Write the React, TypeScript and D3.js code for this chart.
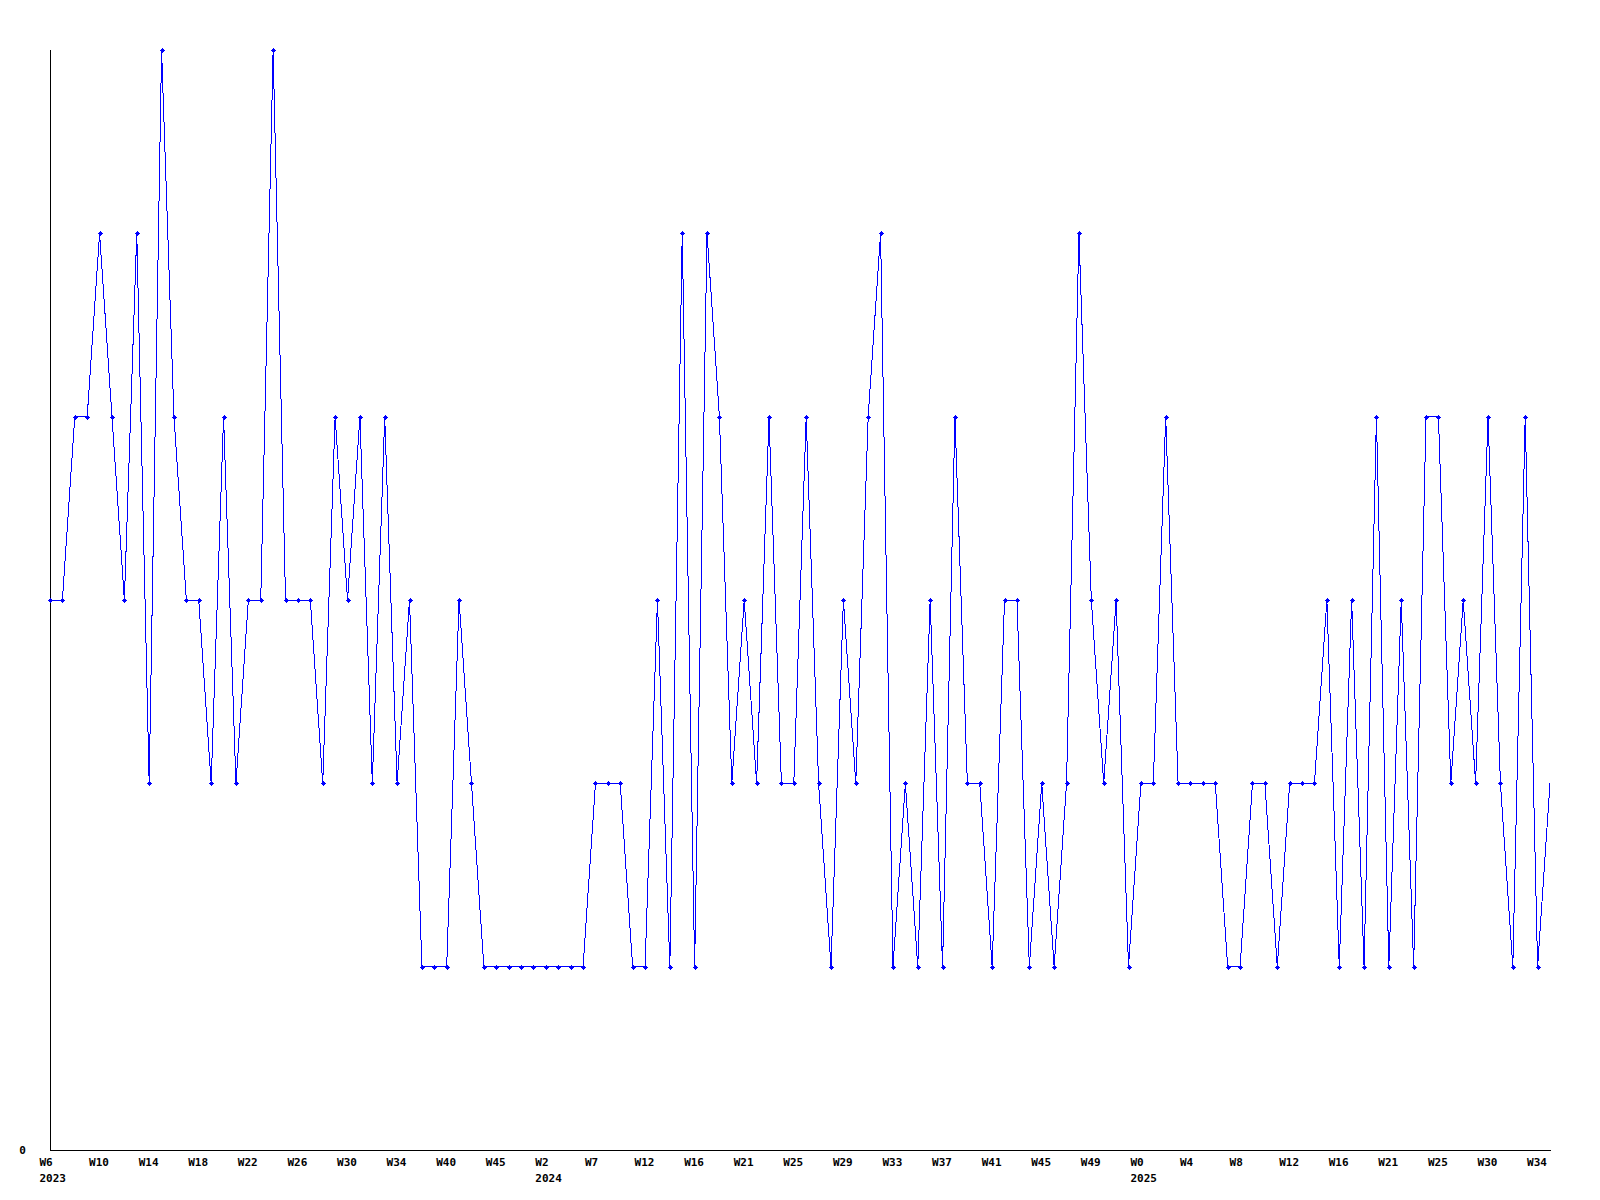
import React from "react";
import * as d3 from "d3";

// Series values (one point per sample, levels)
const values: number[] = [
  3, 3, 4, 4, 5, 4, 3, 5, 2, 6,
  4, 3, 3, 2, 4, 2, 3, 3, 6, 3,
  3, 3, 2, 4, 3, 4, 2, 4, 2, 3,
  1, 1, 1, 3, 2, 1, 1, 1, 1, 1,
  1, 1, 1, 1, 2, 2, 2, 1, 1, 3,
  1, 5, 1, 5, 4, 2, 3, 2, 4, 2,
  2, 4, 2, 1, 3, 2, 4, 5, 1, 2,
  1, 3, 1, 4, 2, 2, 1, 3, 3, 1,
  2, 1, 2, 5, 3, 2, 3, 1, 2, 2,
  4, 2, 2, 2, 2, 1, 1, 2, 2, 1,
  2, 2, 2, 3, 1, 3, 1, 4, 1, 3,
  1, 4, 4, 2, 3, 2, 4, 2, 1, 4,
  1, 2,
];

// Tick labels, one every 4 points
const weekLabels: string[] = [
  "W6", "W10", "W14", "W18", "W22", "W26", "W30", "W34", "W40", "W45",
  "W2", "W7", "W12", "W16", "W21", "W25", "W29", "W33", "W37", "W41",
  "W45", "W49", "W0", "W4", "W8", "W12", "W16", "W21", "W25", "W30", "W34",
];
const yearLabels: { tick: number; label: string }[] = [
  { tick: 0, label: "2023" },
  { tick: 10, label: "2024" },
  { tick: 22, label: "2025" },
];
const yMax = 6;
const tickEvery = 4;

export default function App() {
  const W = 1600, H = 1200;
  const left = 50, right = 1550, top = 50, bottom = 1150;
  const x = d3.scaleLinear().domain([0, values.length - 1]).range([left, right]);
  const y = d3.scaleLinear().domain([0, yMax]).range([bottom, top]);
  const line = d3.line<number>().x((_, i) => x(i)).y((d) => y(d));
  const font = "'DejaVu Sans Mono', monospace";

  return (
    <svg width={W} height={H} style={{ position: "absolute", left: 0, top: 0, background: "#fff" }}>
      <rect x={0} y={0} width={W} height={H} fill="#fff" />
      {/* axes */}
      <line x1={left + 0.5} x2={left + 0.5} y1={top} y2={bottom + 1} stroke="#000" shapeRendering="crispEdges" />
      <line x1={left} x2={right + 1} y1={bottom + 0.5} y2={bottom + 0.5} stroke="#000" shapeRendering="crispEdges" />
      <text x={22.5} y={1154} fontFamily={font} fontSize={11} fontWeight="bold" textAnchor="middle">0</text>
      {weekLabels.map((lab, k) => (
        <text key={"w" + k} x={x(k * tickEvery) - 10.5} y={1166} fontFamily={font} fontSize={11} fontWeight="bold">
          {lab}
        </text>
      ))}
      {yearLabels.map((yl) => (
        <text key={"y" + yl.tick} x={x(yl.tick * tickEvery) - 10.5} y={1181.5} fontFamily={font} fontSize={11} fontWeight="bold">
          {yl.label}
        </text>
      ))}
      {/* series */}
      <path d={line(values) || ""} fill="none" stroke="#0000ff" strokeWidth={1} shapeRendering="crispEdges" />
      {values.slice(0, values.length - 1).map((v, i) => {
        const cx = Math.round(x(i)) + 0.5;
        const cy = Math.round(y(v)) + 0.5;
        return (
          <g key={"m" + i} shapeRendering="crispEdges">
            <line x1={cx - 2.5} x2={cx + 2.5} y1={cy} y2={cy} stroke="#0000ff" />
            <line x1={cx} x2={cx} y1={cy - 2.5} y2={cy + 2.5} stroke="#0000ff" />
            <rect x={cx - 1.5} y={cy - 1.5} width={3} height={3} fill="#0000ff" />
          </g>
        );
      })}
    </svg>
  );
}
